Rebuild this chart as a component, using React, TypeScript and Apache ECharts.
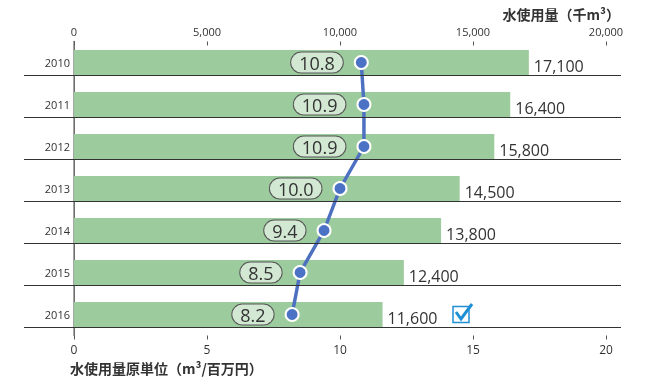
import React, { useEffect, useRef } from "react";
import * as echarts from "echarts";

const years = ["2010", "2011", "2012", "2013", "2014", "2015", "2016"];
const waterUsage = [17100, 16400, 15800, 14500, 13800, 12400, 11600];
const intensity = [10.8, 10.9, 10.9, 10.0, 9.4, 8.5, 8.2];
const topTitle = "水使用量（千m³）";
const bottomTitle = "水使用量原単位（m³/百万円）";

const NUM_FONT = "'Open Sans', 'Noto Sans', sans-serif";
const CJK_FONT = "'Noto Sans CJK JP', 'Noto Sans', sans-serif";

export default function App() {
  const ref = useRef<HTMLDivElement>(null);
  useEffect(() => {
    if (!ref.current) return;
    const chart = echarts.init(ref.current, undefined, { renderer: "svg" });
    const option: any = {
      animation: false,
      grid: { left: 74, right: 40, top: 41.5, height: 294 },
      xAxis: [
        {
          type: "value",
          position: "top",
          min: 0,
          max: 20000,
          interval: 5000,
          axisLine: { show: false },
          axisTick: { show: true, inside: true, length: 4, lineStyle: { color: "#555" } },
          splitLine: { show: false },
          axisLabel: {
            color: "#333",
            fontSize: 11,
            fontFamily: NUM_FONT,
            margin: 5,
            formatter: (v: number) => v.toLocaleString("en-US"),
          },
        },
        {
          type: "value",
          position: "bottom",
          min: 0,
          max: 20,
          interval: 5,
          axisLine: { show: false },
          axisTick: { show: true, length: 4, lineStyle: { color: "#555" } },
          splitLine: { show: false },
          axisLabel: { color: "#333", fontSize: 12, fontFamily: NUM_FONT, margin: 8 },
        },
      ],
      yAxis: [
        {
          type: "category",
          data: years,
          inverse: true,
          axisLine: { show: true, lineStyle: { color: "#222", width: 1 } },
          axisTick: { show: false },
          axisLabel: { color: "#333", fontSize: 11, fontFamily: NUM_FONT, margin: 4 },
        },
        {
          type: "category",
          data: years,
          inverse: true,
          position: "right",
          axisLine: { show: true, lineStyle: { color: "#888", width: 1.5 } },
          axisTick: { show: false },
          axisLabel: { show: false },
        },
      ],
      series: [
        {
          type: "bar",
          xAxisIndex: 0,
          yAxisIndex: 0,
          data: waterUsage,
          barWidth: 25,
          itemStyle: { color: "#9ccb9e" },
          label: {
            show: true,
            position: "right",
            distance: 5,
            offset: [0, 3],
            color: "#333",
            fontSize: 16,
            fontFamily: NUM_FONT,
            formatter: (p: any) => (p.value as number).toLocaleString("en-US"),
          },
          z: 2,
        },
        {
          type: "line",
          xAxisIndex: 1,
          yAxisIndex: 0,
          data: intensity,
          symbol: "circle",
          symbolSize: 13,
          lineStyle: { color: "#4d71c0", width: 3.5 },
          itemStyle: { color: "#4b72c4", borderColor: "#fff", borderWidth: 2 },
          label: {
            show: true,
            position: "left",
            distance: 11,
            color: "#333",
            fontSize: 18,
            fontFamily: NUM_FONT,
            backgroundColor: "#d2e8d3",
            borderColor: "#555",
            borderWidth: 1,
            borderRadius: 10,
            padding: [1, 8, 0, 8],
            lineHeight: 19,
            formatter: (p: any) => (p.value as number).toFixed(1),
          },
          z: 5,
        },
      ],
    };
    chart.setOption(option);

    const sepLines = years.map((y) => {
      const py = Math.round((chart.convertToPixel({ yAxisIndex: 0 } as any, y) as number) + 12.5) + 0.5;
      return {
        type: "line",
        shape: { x1: 24, y1: py, x2: 621, y2: py },
        style: { stroke: "#333", lineWidth: 1 },
        z: 10,
      };
    });

    chart.setOption({
      graphic: [
        ...sepLines,
        {
          type: "text",
          x: 620,
          y: 14,
          style: {
            text: topTitle,
            align: "right",
            verticalAlign: "middle",
            fontSize: 14,
            fontWeight: "bold",
            fontFamily: CJK_FONT,
            fill: "#333",
          },
        },
        {
          type: "text",
          x: 70,
          y: 368,
          style: {
            text: bottomTitle,
            align: "left",
            verticalAlign: "middle",
            fontSize: 14,
            fontWeight: "bold",
            fontFamily: CJK_FONT,
            fill: "#333",
          },
        },
        {
          type: "rect",
          shape: { x: 453, y: 306.5, width: 16, height: 16 },
          style: { fill: "none", stroke: "#1f8fd6", lineWidth: 1.5 },
          z: 10,
        },
        {
          type: "polyline",
          shape: { points: [[456, 312], [461, 319], [472, 304]] },
          style: { fill: "none", stroke: "#1f8fd6", lineWidth: 3 },
          z: 10,
        },
      ],
    });

    return () => chart.dispose();
  }, []);
  return (
    <div
      ref={ref}
      style={{ position: "fixed", left: 0, top: 0, width: 646, height: 379 }}
    />
  );
}
